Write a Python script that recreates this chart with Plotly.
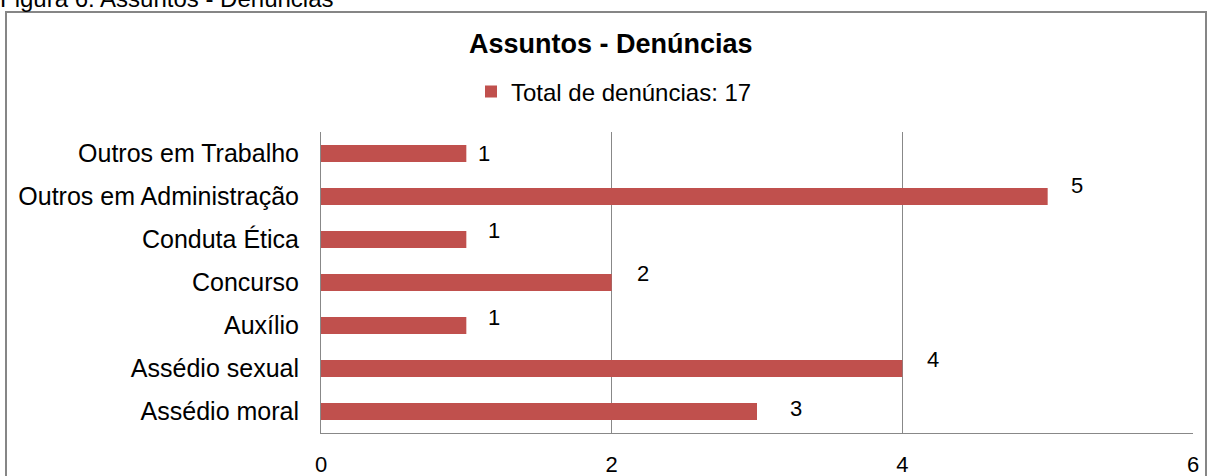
import plotly.graph_objects as go

categories = ["Assédio moral", "Assédio sexual", "Auxílio", "Concurso",
              "Conduta Ética", "Outros em Administração", "Outros em Trabalho"]
values = [3, 4, 1, 2, 1, 5, 1]
series_name = "Total de denúncias: 17"
title = "Assuntos - Denúncias"
caption = "Figura 6: Assuntos - Denúncias"
x_ticks = [0, 2, 4, 6]

# label offsets (pixels) mimicking manually placed Excel labels
label_dx = [39, 31, 28, 31, 28, 29, 18]
label_dy = [3, 9, 8, 9, 9, 11, 0]

W, H = 1212, 476
ML, MR, MT, MB = 321, 19, 132, 43
PW, PH = W - ML - MR, H - MT - MB

def px_x(px):
    return (px - ML) / PW

def px_y(py):
    return (H - MB - py) / PH

bar_color = "#C0504D"
grid = "#888888"
font = "Liberation Sans, Arial, sans-serif"

fig = go.Figure()
fig.add_trace(go.Bar(
    y=categories, x=values, orientation="h", name=series_name,
    marker=dict(color=bar_color, line=dict(width=0)), width=0.4,
    showlegend=True,
))

for c, v, dx, dy in zip(categories, values, label_dx, label_dy):
    fig.add_annotation(x=v, y=c, text=str(v), showarrow=False,
                       xanchor="center", yanchor="middle",
                       xshift=dx, yshift=dy,
                       font=dict(size=22, color="#000000", family=font))

fig.add_annotation(xref="paper", yref="paper", x=px_x(-2), y=px_y(-2),
                   text=caption, showarrow=False, xanchor="left", yanchor="middle",
                   font=dict(size=24, color="#000000", family=font))

fig.add_annotation(xref="paper", yref="paper", x=px_x(611), y=px_y(44),
                   text="<b>" + title + "</b>", showarrow=False,
                   xanchor="center", yanchor="middle",
                   font=dict(size=27, color="#000000", family=font))

# outer frame
fig.add_shape(type="rect", xref="paper", yref="paper",
              x0=px_x(6), x1=px_x(1206), y0=px_y(490), y1=px_y(12),
              line=dict(color="#868686", width=2), fillcolor="rgba(0,0,0,0)", layer="below")

fig.update_layout(
    width=W, height=H,
    margin=dict(l=ML, r=MR, t=MT, b=MB, pad=0, autoexpand=False),
    paper_bgcolor="white", plot_bgcolor="white",
    font=dict(family=font, size=24, color="#000000"),
    showlegend=True,
    legend=dict(orientation="h", x=px_x(614), xanchor="center",
                y=px_y(92), yanchor="middle",
                font=dict(size=24, family=font), itemwidth=30,
                bgcolor="rgba(0,0,0,0)"),
    xaxis=dict(range=[0, 6], tickvals=x_ticks, ticktext=[str(t) for t in x_ticks],
               showgrid=True, gridcolor=grid, gridwidth=1,
               zeroline=False, showline=True, linecolor=grid, linewidth=1,
               ticks="", tickfont=dict(size=22), ticklabelstandoff=12),
    yaxis=dict(categoryorder="array", categoryarray=categories,
               showgrid=False, zeroline=False, showline=True, linecolor=grid, linewidth=1,
               ticks="", tickfont=dict(size=25), ticklabelstandoff=16,
               range=[-0.5, len(categories) - 0.5]),
    bargap=0.6,
)

fig.write_html("out.html", config={"displayModeBar": False},
               post_script="document.body.style.margin='0';document.body.style.padding='0';")
